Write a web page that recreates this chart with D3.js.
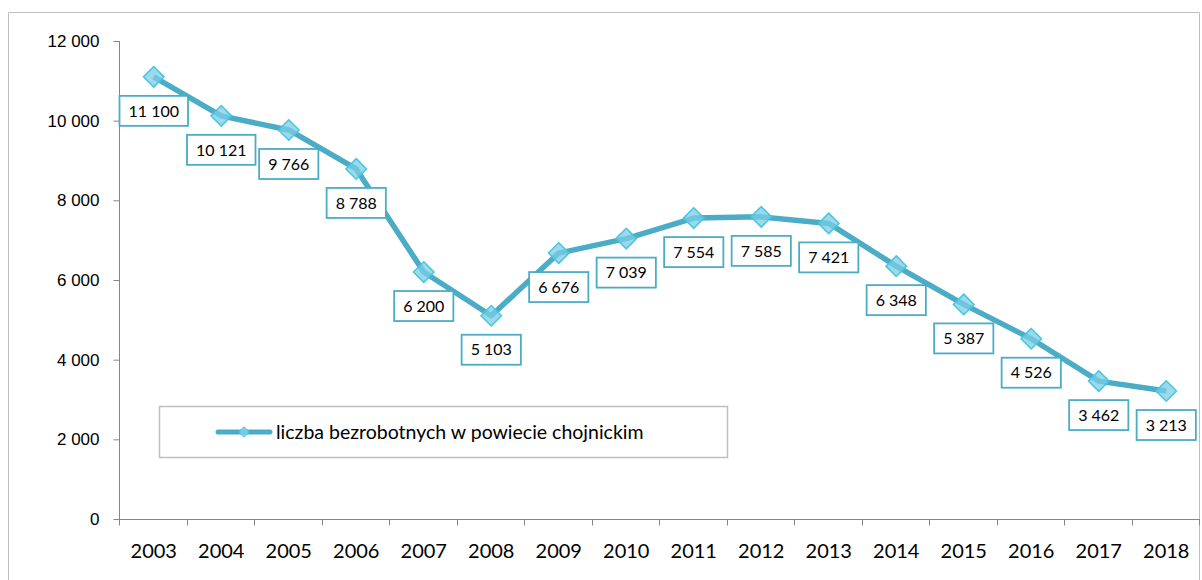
<!DOCTYPE html>
<html>
<head>
<meta charset="utf-8">
<script src="https://cdn.jsdelivr.net/npm/d3@7"></script>
<style>
  body { margin: 0; background: #fff; }
  svg { display: block; font-family: Lato, "Open Sans", sans-serif; }
  .tick text { fill: #000; }
</style>
</head>
<body>
<svg id="chart" width="1202" height="580"></svg>
<script>
const years = ["2003","2004","2005","2006","2007","2008","2009","2010","2011","2012","2013","2014","2015","2016","2017","2018"];
const unemployed = [11100,10121,9766,8788,6200,5103,6676,7039,7554,7585,7421,6348,5387,4526,3462,3213];
const yTicks = [0,2000,4000,6000,8000,10000,12000];
const seriesName = "liczba bezrobotnych w powiecie chojnickim";

const data = years.map((y, i) => ({ year: y, value: unemployed[i] }));

const svg = d3.select("#chart");
const lineColor = "#4bacc6";
const fmt = (v) => d3.format(",")(v).replace(/,/g, " ");

// outer frame
svg.append("path")
  .attr("d", "M8.5,580 L8.5,12.5 L1199.5,12.5 L1199.5,580")
  .attr("fill", "none")
  .attr("stroke", "#bfbfbf")
  .attr("stroke-width", 1);

const xScale = d3.scaleBand().domain(years).range([120, 1200]);
const yScale = d3.scaleLinear().domain([0, 12000]).range([519, 41]);

const yAxis = d3.axisLeft(yScale).tickValues(yTicks).tickSize(6).tickPadding(14).tickFormat(fmt);
const yAxisG = svg.append("g").attr("transform", "translate(119.5,0)").call(yAxis);
yAxisG.selectAll("text").style("font-size", "17px");
yAxisG.selectAll("line, path").attr("stroke", "#868686");
yAxisG.select(".domain").attr("d", "M0,41V519");

// x axis with ticks at category boundaries
const xAxisG = svg.append("g").attr("transform", "translate(0,519.5)");
xAxisG.append("line")
  .attr("x1", 119).attr("x2", 1200)
  .attr("stroke", "#868686");
xAxisG.selectAll(".xtick")
  .data(years.concat(["end"]))
  .join("line")
  .attr("class", "xtick")
  .attr("x1", (d, i) => Math.round(120 + i * xScale.bandwidth()) - 0.5)
  .attr("x2", (d, i) => Math.round(120 + i * xScale.bandwidth()) - 0.5)
  .attr("y1", 0).attr("y2", 6)
  .attr("stroke", "#868686");
xAxisG.selectAll(".xlabel")
  .data(years)
  .join("text")
  .attr("class", "xlabel")
  .attr("x", (d) => xScale(d) + xScale.bandwidth() / 2)
  .attr("y", 38)
  .attr("text-anchor", "middle")
  .style("font-size", "20px")
  .text((d) => d);

const cx = (d) => xScale(d.year) + xScale.bandwidth() / 2;

const lineGenerator = d3.line().x(cx).y((d) => yScale(d.value));

svg.append("path")
  .datum(data)
  .attr("d", lineGenerator)
  .attr("fill", "none")
  .attr("stroke", lineColor)
  .attr("stroke-width", 5.5)
  .attr("stroke-linejoin", "round");

const diamond = d3.symbol().type(d3.symbolDiamond2).size(270);
svg.selectAll(".marker")
  .data(data)
  .join("path")
  .attr("class", "marker")
  .attr("d", diamond)
  .attr("transform", (d) => `translate(${cx(d)},${yScale(d.value)})`)
  .attr("fill", "rgba(120,205,230,0.75)")
  .attr("stroke", "#4bc4e0")
  .attr("stroke-width", 1.5);

// data labels
const labels = svg.selectAll(".dlabel")
  .data(data)
  .join("g")
  .attr("class", "dlabel")
  .attr("transform", (d) => `translate(${cx(d)},${yScale(d.value) + 34})`);

labels.append("rect");
labels.append("text")
  .attr("text-anchor", "middle")
  .attr("dy", "0.36em")
  .style("font-size", "16px")
  .text((d) => fmt(d.value));
labels.each(function () {
  const g = d3.select(this);
  const w = g.select("text").node().getComputedTextLength() + 18;
  g.select("rect")
    .attr("x", -w / 2).attr("y", -15)
    .attr("width", w).attr("height", 30)
    .attr("fill", "#fff")
    .attr("stroke", lineColor)
    .attr("stroke-width", 1.8);
});

// legend
const legend = svg.append("g");
legend.append("rect")
  .attr("x", 159.5).attr("y", 406.5)
  .attr("width", 568).attr("height", 51)
  .attr("fill", "#fff")
  .attr("stroke", "#bfbfbf")
  .attr("stroke-width", 1.5);
legend.append("line")
  .attr("x1", 218).attr("x2", 270)
  .attr("y1", 432).attr("y2", 432)
  .attr("stroke", lineColor)
  .attr("stroke-width", 5)
  .attr("stroke-linecap", "round");
legend.append("path")
  .attr("d", d3.symbol().type(d3.symbolDiamond2).size(70))
  .attr("transform", "translate(244,432)")
  .attr("fill", "rgba(120,205,230,0.9)")
  .attr("stroke", "#4bc4e0");
legend.append("text")
  .attr("x", 276).attr("y", 432)
  .attr("dy", "0.36em")
  .style("font-size", "19.5px")
  .text(seriesName);
</script>
</body>
</html>
